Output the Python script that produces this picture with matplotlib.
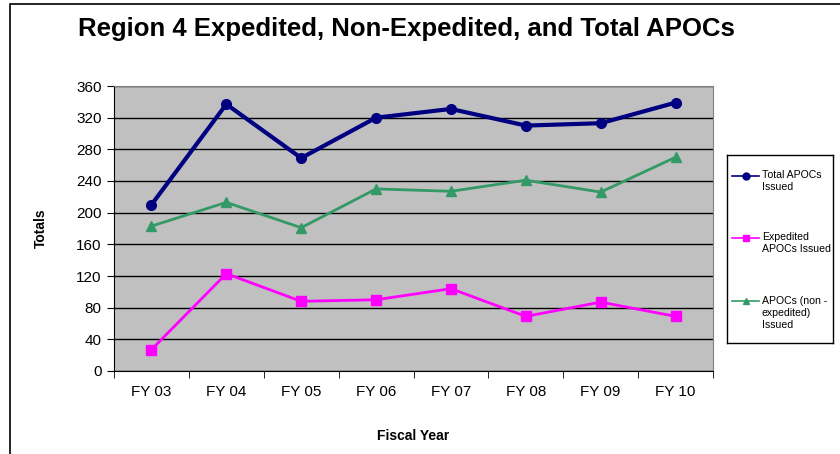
import numpy as np
import matplotlib.pyplot as plt
from matplotlib.patches import Rectangle

plt.rcParams['font.family'] = ['Liberation Sans', 'DejaVu Sans']

years = ['FY 03', 'FY 04', 'FY 05', 'FY 06', 'FY 07', 'FY 08', 'FY 09', 'FY 10']
total = [210, 337, 269, 320, 331, 310, 313, 339]
expedited = [27, 123, 88, 90, 104, 69, 87, 69]
non_expedited = [183, 213, 181, 230, 227, 241, 226, 270]

series = [
    ('Total APOCs\nIssued', total, '#000080', 3, 'o'),
    ('Expedited\nAPOCs Issued', expedited, '#FF00FF', 2, 's'),
    ('APOCs (non -\nexpedited)\nIssued', non_expedited, '#339966', 2, '^'),
]

fig = plt.figure(figsize=(8.4, 4.54), dpi=100)
W, H = 840, 454
ax = fig.add_axes([114 / W, 1 - 371 / H, (713 - 114) / W, (371 - 86) / H])
ax.set_facecolor('#C0C0C0')

x = np.arange(len(years))
for label, vals, col, lw, mk in series:
    ax.plot(x, vals, color=col, lw=lw, marker=mk, ms=7, zorder=5)

ax.set_xlim(-0.5, len(years) - 0.5)
ax.set_ylim(0, 360)
ax.set_yticks(np.arange(0, 361, 40))
ax.yaxis.grid(True, color='black', lw=1)
ax.set_axisbelow(True)
ax.set_xticks(x)
ax.set_xticklabels(years)
ax.set_xticks(np.arange(-0.5, len(years)), minor=True)
ax.tick_params(axis='x', which='major', length=0, pad=10, labelsize=11)
ax.tick_params(axis='x', which='minor', length=5, direction='out')
ax.tick_params(axis='y', length=5, direction='out', labelsize=11, pad=4)

for s in ['top', 'right']:
    ax.spines[s].set_color('#808080')
for s in ['left', 'bottom']:
    ax.spines[s].set_color('black')

ax.set_ylabel('Totals', fontsize=10, fontweight='bold', labelpad=20)
ax.set_xlabel('Fiscal Year', fontsize=10, fontweight='bold', labelpad=22)

fig.text(406 / W, 1 - 29 / H, 'Region 4 Expedited, Non-Expedited, and Total APOCs',
         ha='center', va='center', fontsize=18.5, fontweight='bold')

# legend: own axes in pixel units so the marker sits on the first text line
lx0, ly0, lx1, ly1 = 727, 155, 833, 343
lax = fig.add_axes([lx0 / W, 1 - ly1 / H, (lx1 - lx0) / W, (ly1 - ly0) / H])
lax.set_xlim(0, lx1 - lx0)
lax.set_ylim(ly1 - ly0, 0)
lax.set_xticks([])
lax.set_yticks([])
for s in lax.spines.values():
    s.set_color('black')
    s.set_linewidth(1)
entry_y = [21, 83, 146]
for (label, vals, col, lw, mk), yy in zip(series, entry_y):
    lax.plot([5, 32], [yy, yy], color=col, lw=1.2)
    lax.plot([18.5], [yy], color=col, marker=mk, ms=5)
    lax.text(35, yy - 5.5, label, fontsize=7.6, va='top', ha='left', linespacing=1.25)

# outer chart border
fig.patches.append(Rectangle((10 / W, -0.1), 1.2, 1 - 4 / H + 0.1, transform=fig.transFigure,
                             fill=False, edgecolor='black', lw=1.2))

fig.savefig('out.png', dpi=100)
